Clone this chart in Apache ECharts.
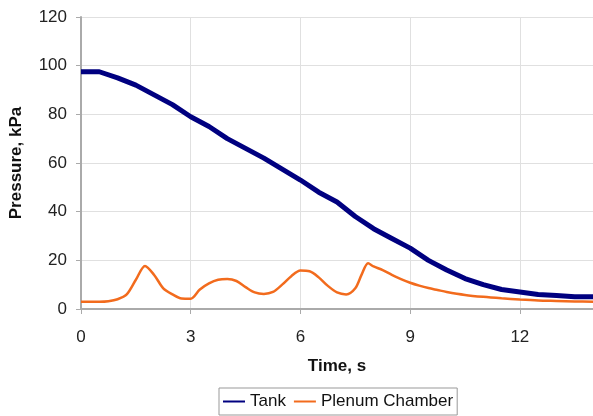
<!DOCTYPE html>
<html>
<head>
<meta charset="utf-8">
<script src="https://cdn.jsdelivr.net/npm/echarts@6/dist/echarts.min.js"></script>
<style>html,body{margin:0;padding:0;background:#fff;}#c{width:593px;height:416px;}</style>
</head>
<body>
<div id="c"></div>
<script>
var tankTime = [0,0.5,1,1.5,2,2.5,3,3.5,4,4.5,5,5.5,6,6.5,7,7.5,8,8.5,9,9.5,10,10.5,11,11.5,12,12.5,13,13.5,14];
var tankValues = [97.5,97.5,95,92,88,84,79,75,70,66,62,57.5,53,48,44,38,33,29,25,20,16,12.5,10,8,7,6,5.5,5,5];
var plenumTime = [0,0.25,0.5,0.75,1,1.25,1.5,1.75,2,2.25,2.5,2.75,3,3.25,3.5,3.75,4,4.25,4.5,4.75,5,5.25,5.5,5.75,6,6.25,6.5,6.75,7,7.25,7.5,7.67,7.85,8,8.25,8.5,8.75,9,9.25,9.5,9.75,10,10.5,11,11.5,12,12.5,13,13.5,14];
var plenumValues = [3,3,3,3.2,4,6,12,17.7,14,8.5,6,4.3,4.2,8,10.5,12,12.3,11.5,9,6.8,6.2,7,10,13.5,15.8,15.5,13,9.5,6.8,6,8.5,14,18.8,17.5,16,14,12.3,10.8,9.6,8.6,7.8,7,5.8,5,4.4,3.9,3.5,3.3,3.1,3];
var xTicks = [0,3,6,9,12];
var yTicks = [0,20,40,60,80,100,120];

function pairs(t, v){ return t.map(function(x,i){ return [x, v[i]]; }); }

var chart = echarts.init(document.getElementById('c'), null, {renderer:'canvas'});
var font = 'Liberation Sans, Arial, sans-serif';
chart.setOption({
  animation: false,
  backgroundColor: '#fff',
  grid: {left: 81, top: 17, right: -3, bottom: 107},
  legend: {
    bottom: 1, left: 219,
    data: ['Tank','Plenum Chamber'],
    icon: 'rect', itemWidth: 22, itemHeight: 2, itemGap: 8,
    borderColor: '#999', borderWidth: 1, padding: [5,4,5,4],
    textStyle: {fontFamily: font, fontSize: 17, color: '#111'}
  },
  xAxis: {
    type: 'value', min: 0, max: 14, interval: 3,
    name: 'Time, s', nameLocation: 'middle', nameGap: 49,
    nameTextStyle: {fontFamily: font, fontSize: 17, fontWeight: 'bold', color: '#111'},
    axisLine: {lineStyle: {color: '#aaa', width: 2}},
    axisTick: {show: true, length: 5, lineStyle: {color: '#aaa'}},
    axisLabel: {fontFamily: font, fontSize: 17, color: '#222', margin: 20, showMaxLabel: false,
      formatter: function(v){ return xTicks.indexOf(v) >= 0 ? String(v) : ''; }},
    splitLine: {show: true, lineStyle: {color: '#e0e0e0', width: 1}}
  },
  yAxis: {
    type: 'value', min: 0, max: 120, interval: 20,
    name: 'Pressure, kPa', nameLocation: 'middle', nameGap: 56,
    nameTextStyle: {fontFamily: font, fontSize: 17, fontWeight: 'bold', color: '#111'},
    axisLine: {show: true, lineStyle: {color: '#aaa', width: 2}},
    axisTick: {show: true, length: 5, lineStyle: {color: '#aaa'}},
    axisLabel: {fontFamily: font, fontSize: 17, color: '#222', margin: 14,
      formatter: function(v){ return yTicks.indexOf(v) >= 0 ? String(v) : ''; }},
    splitLine: {show: true, lineStyle: {color: '#e0e0e0', width: 1}}
  },
  series: [
    {name: 'Tank', type: 'line', data: pairs(tankTime, tankValues), showSymbol: false,
     lineStyle: {color: '#000080', width: 5}, itemStyle: {color: '#000080'}, z: 2},
    {name: 'Plenum Chamber', type: 'line', data: pairs(plenumTime, plenumValues), showSymbol: false, smooth: 0.3,
     lineStyle: {color: '#f26b1d', width: 2.5}, itemStyle: {color: '#f26b1d'}, z: 3}
  ]
});
</script>
</body>
</html>
